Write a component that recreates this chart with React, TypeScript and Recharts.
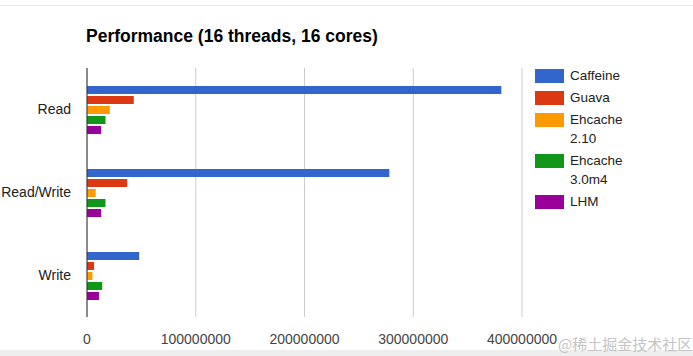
import React from 'react';
import { BarChart, Bar, XAxis, YAxis, CartesianGrid, Legend } from 'recharts';

const categories = ['Read', 'Read/Write', 'Write'];
const caffeine = [381000000, 278000000, 48000000];
const guava = [43000000, 37000000, 6500000];
const ehcache210 = [21000000, 8000000, 5000000];
const ehcache30m4 = [17000000, 17000000, 14000000];
const lhm = [13000000, 13000000, 11000000];
const xTicks = [0, 100000000, 200000000, 300000000, 400000000];

const seriesNames = ['Caffeine', 'Guava', 'Ehcache 2.10', 'Ehcache 3.0m4', 'LHM'];
const seriesKeys = ['caffeine', 'guava', 'ehcache210', 'ehcache30m4', 'lhm'];
const seriesColors = ['#3366cc', '#dc3912', '#ff9900', '#109618', '#990099'];

const data = categories.map((c, i) => ({
  name: c,
  caffeine: caffeine[i],
  guava: guava[i],
  ehcache210: ehcache210[i],
  ehcache30m4: ehcache30m4[i],
  lhm: lhm[i],
}));

const FONT = 'Arial, "Liberation Sans", sans-serif';

const LegendContent = () => (
  <div style={{ fontFamily: FONT, fontSize: 13.5, color: '#222', textAlign: 'left' }}>
    {seriesNames.map((n, i) => (
      <div key={n} style={{ display: 'flex', alignItems: 'flex-start', marginBottom: 4 }}>
        <div style={{ width: 29, height: 14, background: seriesColors[i], marginTop: 2, marginRight: 6, flex: 'none' }} />
        <div style={{ width: 62, lineHeight: '19px', marginTop: -1 }}>{n}</div>
      </div>
    ))}
  </div>
);

export default function App() {
  return (
    <div style={{ position: 'absolute', left: 0, top: 0, width: 693, height: 356, background: '#fff', overflow: 'hidden' }}>
      <div style={{ position: 'absolute', left: 0, top: 5, width: 693, height: 1, background: '#eee' }} />
      <div style={{ position: 'absolute', left: 0, top: 350, width: 693, height: 6, background: '#eee' }} />
      <div style={{ position: 'absolute', left: 86, top: 26, fontFamily: FONT, fontSize: 17.5, fontWeight: 'bold', color: '#000', whiteSpace: 'nowrap' }}>
        Performance (16 threads, 16 cores)
      </div>
      <BarChart
        width={693}
        height={356}
        data={data}
        layout="vertical"
        margin={{ top: 68, right: 171, bottom: 9, left: 0 }}
        barSize={8}
        barGap={2}
      >
        <CartesianGrid horizontal={false} stroke="#ccc" />
        <XAxis
          type="number"
          domain={[0, 400000000]}
          ticks={xTicks}
          interval={0}
          height={30}
          axisLine={false}
          tickLine={false}
          tickSize={0}
          tickMargin={17}
          tick={{ fill: '#444', fontSize: 14, fontFamily: FONT }}
        />
        <YAxis
          type="category"
          dataKey="name"
          width={87}
          axisLine={{ stroke: '#333' }}
          tickLine={false}
          tickSize={0}
          tickMargin={16}
          tick={{ fill: '#222', fontSize: 14, fontFamily: FONT }}
        />
        <Legend
          layout="vertical"
          align="center"
          verticalAlign="middle"
          content={<LegendContent />}
          wrapperStyle={{ position: 'absolute', left: 535, top: 67, width: 140 }}
        />
        {seriesKeys.map((k, i) => (
          <Bar key={k} dataKey={k} name={seriesNames[i]} fill={seriesColors[i]} isAnimationActive={false} />
        ))}
      </BarChart>
      <div style={{ position: 'absolute', left: 558, top: 333, fontFamily: '"Noto Sans CJK SC", sans-serif', fontSize: 15, color: '#c4c4c4', whiteSpace: 'nowrap' }}>
        @稀土掘金技术社区
      </div>
    </div>
  );
}
